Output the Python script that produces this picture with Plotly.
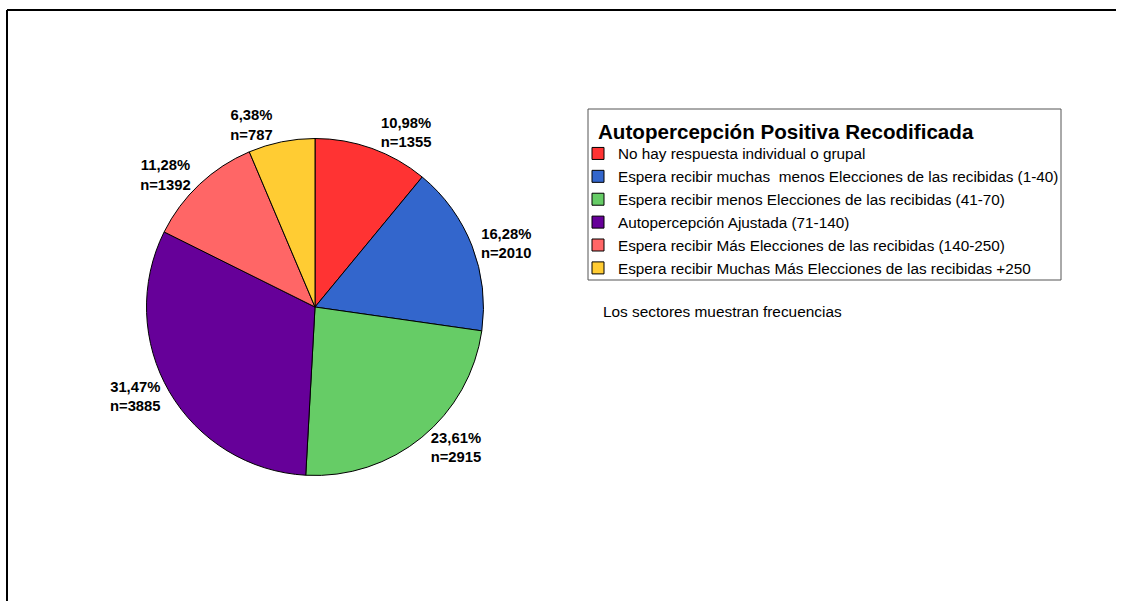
import plotly.graph_objects as go

categories = [
    "No hay respuesta individual o grupal",
    "Espera recibir muchas\u00a0 menos Elecciones de las recibidas (1-40)",
    "Espera recibir menos Elecciones de las recibidas (41-70)",
    "Autopercepción Ajustada (71-140)",
    "Espera recibir Más Elecciones de las recibidas (140-250)",
    "Espera recibir Muchas Más Elecciones de las recibidas +250",
]
counts = [1355, 2010, 2915, 3885, 1392, 787]
percent_labels = ["10,98%", "16,28%", "23,61%", "31,47%", "11,28%", "6,38%"]
colors = ["#FF3333", "#3366CC", "#66CC66", "#660099", "#FF6666", "#FFCC33"]
legend_title = "Autopercepción Positiva Recodificada"
note = "Los sectores muestran frecuencias"

W, H = 1122, 601
cx, cy, r = 315, 307, 168.5
FONT = "Liberation Sans, Arial, sans-serif"

texts = [f"<b>{p}<br>n={n}</b>" for p, n in zip(percent_labels, counts)]

fig = go.Figure()
fig.add_trace(go.Pie(
    labels=categories,
    values=counts,
    text=texts,
    textinfo="text",
    textposition="outside",
    textfont=dict(family=FONT, size=14.8, color="black"),
    marker=dict(colors=colors, line=dict(color="black", width=1)),
    sort=False,
    direction="clockwise",
    rotation=0,
    hoverinfo="label+value",
    domain=dict(x=[(cx - r) / W, (cx + r) / W], y=[(H - cy - r) / H, (H - cy + r) / H]),
))

# outer frame (only left and top edges are visible in the reference)
fig.add_shape(type="line", xref="paper", yref="paper",
              x0=7 / W, x1=7 / W, y0=0, y1=1 - 10 / H,
              line=dict(color="black", width=2), layer="above")
fig.add_shape(type="line", xref="paper", yref="paper",
              x0=7 / W, x1=1116 / W, y0=1 - 10 / H, y1=1 - 10 / H,
              line=dict(color="black", width=2), layer="above")
# legend box
fig.add_shape(type="rect", xref="paper", yref="paper",
              x0=588 / W, x1=1061 / W, y0=1 - 280 / H, y1=1 - 109 / H,
              line=dict(color="#555555", width=1), layer="above")

fig.add_annotation(text=f"<b>{legend_title}</b>", xref="paper", yref="paper",
                   x=596 / W, y=1 - 131 / H, xanchor="left", yanchor="middle",
                   showarrow=False, font=dict(family=FONT, size=20.6, color="black"))

fig.add_annotation(text=note, xref="paper", yref="paper",
                   x=601 / W, y=1 - 311 / H, xanchor="left", yanchor="middle",
                   showarrow=False, font=dict(family=FONT, size=15.4, color="black"))

fig.update_layout(
    width=W, height=H,
    margin=dict(l=0, r=0, t=0, b=0),
    paper_bgcolor="white",
    plot_bgcolor="white",
    font=dict(family=FONT, color="black"),
    showlegend=True,
    legend=dict(
        x=578 / W, y=1 - 137 / H, xanchor="left", yanchor="top",
        borderwidth=0, bgcolor="rgba(0,0,0,0)",
        font=dict(family=FONT, size=15.3, color="black"),
        traceorder="normal",
        itemwidth=30,
    ),
)

fig.write_html("out.html", config={"displayModeBar": False},
               post_script="document.body.style.margin='0px';document.documentElement.style.overflow='hidden';")
